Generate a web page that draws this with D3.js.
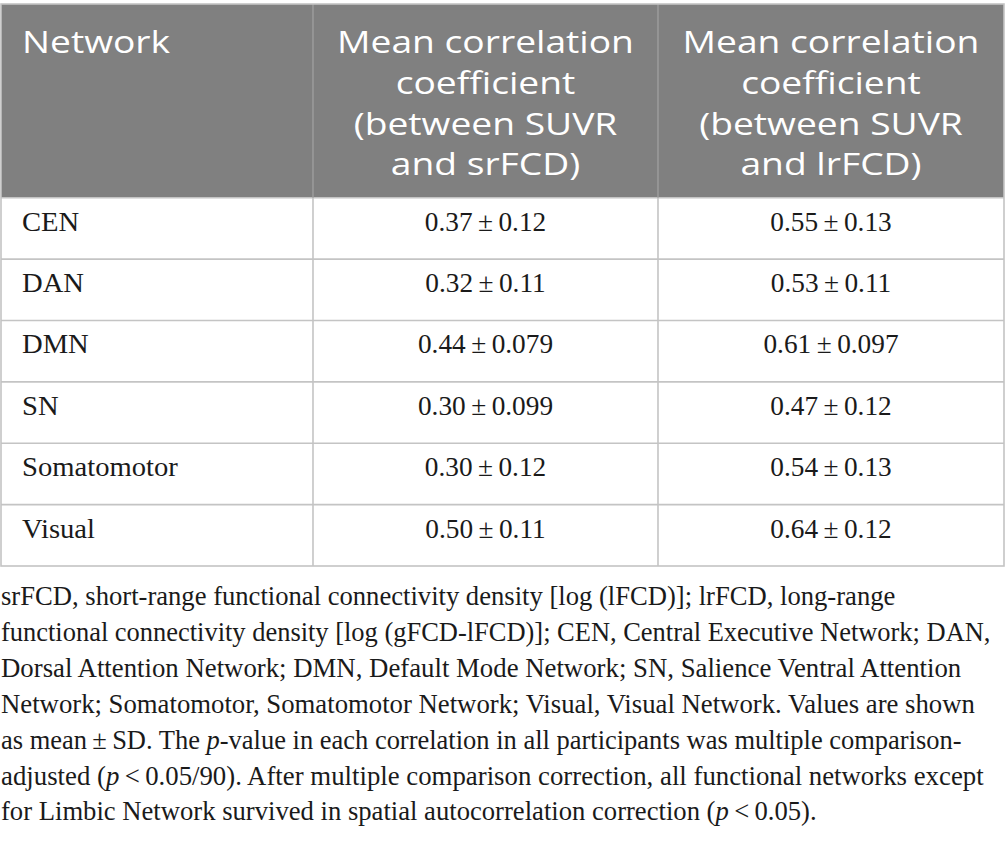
<!DOCTYPE html>
<html>
<head>
<meta charset="utf-8">
<script src="https://cdn.jsdelivr.net/npm/d3@7"></script>
<style>
  html, body { margin: 0; padding: 0; background: #ffffff; }
  svg { display: block; }
</style>
</head>
<body>
<svg id="chart" width="1005" height="843"></svg>
<script>
// ---------------- DATA ----------------
const networks = ["CEN", "DAN", "DMN", "SN", "Somatomotor", "Visual"];
const srFCDMean = ["0.37", "0.32", "0.44", "0.30", "0.30", "0.50"];
const srFCDSD   = ["0.12", "0.11", "0.079", "0.099", "0.12", "0.11"];
const lrFCDMean = ["0.55", "0.53", "0.61", "0.47", "0.54", "0.64"];
const lrFCDSD   = ["0.13", "0.11", "0.097", "0.12", "0.13", "0.12"];
const headerNetwork = ["Network"];
const headerSr = ["Mean correlation", "coefficient", "(between SUVR", "and srFCD)"];
const headerLr = ["Mean correlation", "coefficient", "(between SUVR", "and lrFCD)"];
const footnoteLines = [
  [["srFCD, short-range functional connectivity density [log (lFCD)]; lrFCD, long-range", false]],
  [["functional connectivity density [log (gFCD-lFCD)]; CEN, Central Executive Network; DAN,", false]],
  [["Dorsal Attention Network; DMN, Default Mode Network; SN, Salience Ventral Attention", false]],
  [["Network; Somatomotor, Somatomotor Network; Visual, Visual Network. Values are shown", false]],
  [["as mean\u2009\u00b1\u2009SD. The ", false], ["p", true], ["-value in each correlation in all participants was multiple comparison-", false]],
  [["adjusted (", false], ["p", true], ["\u2009<\u20090.05/90). After multiple comparison correction, all functional networks except", false]],
  [["for Limbic Network survived in spatial autocorrelation correction (", false], ["p", true], ["\u2009<\u20090.05).", false]]
];

// ---------------- LAYOUT ----------------
const svg = d3.select("#chart");
const colEdges = [1, 313, 658, 1004];
const tableTop = 4, headerBottom = 197.7, tableBottom = 566;
const gridColor = "#c4c4c4";
const headerFill = "#808080";
const sans = "'Open Sans', 'Noto Sans', sans-serif";
const serif = "'Liberation Serif', 'DejaVu Serif', serif";

const y = d3.scaleBand().domain(networks).range([headerBottom, tableBottom]).padding(0);
const col = d3.scaleOrdinal().domain(["net", "sr", "lr"]).range([0, 1, 2]);
const colX0 = k => colEdges[col(k)];
const colX1 = k => colEdges[col(k) + 1];
const colCenter = k => (colX0(k) + colX1(k)) / 2;

// header background
svg.append("rect")
  .attr("x", colEdges[0]).attr("y", tableTop)
  .attr("width", colEdges[3] - colEdges[0]).attr("height", headerBottom - tableTop)
  .attr("fill", headerFill);

// body background
svg.append("rect")
  .attr("x", colEdges[0]).attr("y", headerBottom)
  .attr("width", colEdges[3] - colEdges[0]).attr("height", tableBottom - headerBottom)
  .attr("fill", "#ffffff");

// horizontal lines
const grid = svg.append("g");
grid.selectAll("line.h").data(networks.slice(1)).join("line")
  .attr("x1", colEdges[0]).attr("x2", colEdges[3])
  .attr("y1", d => y(d)).attr("y2", d => y(d))
  .attr("stroke", gridColor).attr("stroke-width", 1.6);
grid.append("line")
  .attr("x1", colEdges[0]).attr("x2", colEdges[3])
  .attr("y1", headerBottom).attr("y2", headerBottom)
  .attr("stroke", gridColor).attr("stroke-width", 1.6);
// vertical inner lines
grid.selectAll("line.v").data([1, 2]).join("line")
  .attr("x1", i => colEdges[i]).attr("x2", i => colEdges[i])
  .attr("y1", tableTop).attr("y2", headerBottom)
  .attr("stroke", "#9a9a9a").attr("stroke-width", 1.6);
grid.selectAll("line.vb").data([1, 2]).join("line")
  .attr("x1", i => colEdges[i]).attr("x2", i => colEdges[i])
  .attr("y1", headerBottom).attr("y2", tableBottom)
  .attr("stroke", gridColor).attr("stroke-width", 1.6);
// outer border
grid.append("rect")
  .attr("x", colEdges[0]).attr("y", tableTop)
  .attr("width", colEdges[3] - colEdges[0]).attr("height", tableBottom - tableTop)
  .attr("fill", "none").attr("stroke", gridColor).attr("stroke-width", 1.6);

// header text
const headerBase = 53.3, headerStep = 40.7, headerSize = 31;
const widthScale = 1.2; // wide header face
function headerBlock(lines, key, anchor) {
  const g = svg.append("g");
  lines.forEach((t, i) => {
    const tx = g.append("text")
      .attr("x", anchor === "start" ? colX0(key) + 21 : colCenter(key))
      .attr("y", headerBase + i * headerStep)
      .attr("text-anchor", anchor)
      .attr("fill", "#ffffff")
      .attr("font-family", sans)
      .attr("font-size", headerSize)
      .text(t);
    const w = tx.node().getComputedTextLength();
    tx.attr("textLength", w * widthScale).attr("lengthAdjust", "spacingAndGlyphs");
  });
}
headerBlock(headerNetwork, "net", "start");
headerBlock(headerSr, "sr", "middle");
headerBlock(headerLr, "lr", "middle");

// body text
const cellSize = 26.5;
const bodyG = svg.append("g");
function fitText(sel, k) {
  sel.each(function () {
    const w = this.getComputedTextLength();
    d3.select(this).attr("textLength", w * k).attr("lengthAdjust", "spacingAndGlyphs");
  });
}
bodyG.selectAll("text.net").data(networks).join("text")
  .attr("x", colX0("net") + 21)
  .attr("y", d => y(d) + 33)
  .attr("font-family", serif).attr("font-size", cellSize).attr("fill", "#1a1a1a")
  .text(d => d)
  .call(fitText, 1.08);
bodyG.selectAll("text.sr").data(networks).join("text")
  .attr("x", colCenter("sr"))
  .attr("y", d => y(d) + 33)
  .attr("text-anchor", "middle")
  .attr("font-family", serif).attr("font-size", cellSize).attr("fill", "#1a1a1a")
  .text((d, i) => srFCDMean[i] + "\u2009\u00b1\u2009" + srFCDSD[i])
  .call(fitText, 1.03);
bodyG.selectAll("text.lr").data(networks).join("text")
  .attr("x", colCenter("lr"))
  .attr("y", d => y(d) + 33)
  .attr("text-anchor", "middle")
  .attr("font-family", serif).attr("font-size", cellSize).attr("fill", "#1a1a1a")
  .text((d, i) => lrFCDMean[i] + "\u2009\u00b1\u2009" + lrFCDSD[i])
  .call(fitText, 1.03);

// footnote: each line scaled horizontally to its measured width
const footBase = 605, footStep = 35.9, footSize = 27;
const footEnds = [896, 991, 962, 975, 962, 984, 817];
const footG = svg.append("g");
footnoteLines.forEach((segs, i) => {
  const g = footG.append("g");
  const t = g.append("text")
    .attr("x", 0).attr("y", 0)
    .attr("font-family", serif).attr("font-size", footSize).attr("fill", "#1a1a1a");
  segs.forEach(([s, it]) => {
    t.append("tspan").attr("font-style", it ? "italic" : "normal").text(s);
  });
  const w = t.node().getComputedTextLength();
  const sx = (footEnds[i] - 1) / w;
  g.attr("transform", `translate(1,${footBase + i * footStep}) scale(${sx},1)`);
});
</script>
</body>
</html>
